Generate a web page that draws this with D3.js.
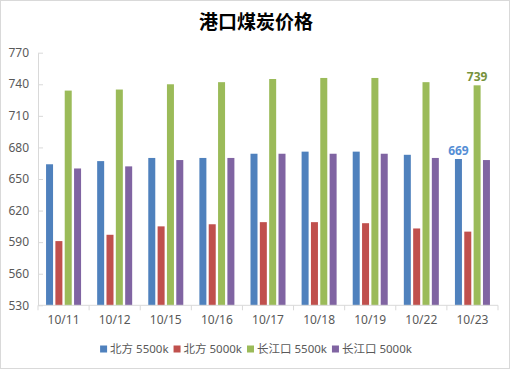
<!DOCTYPE html>
<html>
<head>
<meta charset="utf-8">
<script src="https://cdn.jsdelivr.net/npm/d3@7"></script>
<style>
  body { margin: 0; background: #fff; }
  text { font-family: "Noto Sans", "Noto Sans CJK SC", sans-serif; }
</style>
</head>
<body>
<div id="chart"></div>
<script>
// port coal prices
var dates = ['10/11', '10/12', '10/15', '10/16', '10/17', '10/18', '10/19', '10/22', '10/23'];
var seriesNames = ['北方 5500k', '北方 5000k', '长江口 5500k', '长江口 5000k'];
var north5500 = [664, 667, 670, 670, 674, 676, 676, 673, 669];
var north5000 = [591, 597, 605, 607, 609, 609, 608, 603, 600];
var yangtze5500 = [734, 735, 740, 742, 745, 746, 746, 742, 739];
var yangtze5000 = [660, 662, 668, 670, 674, 674, 674, 670, 668];
var yTicks = [530, 560, 590, 620, 650, 680, 710, 740, 770];
var colors = ['#4F81BD', '#C0504D', '#9BBB59', '#8064A2'];

var allSeries = [north5500, north5000, yangtze5500, yangtze5000];

var w = 512, h = 370;
var left = 38, right = 498, top_y = 52.7, bottom_y = 305.3;

var svg = d3.select('#chart')
  .append('svg')
    .attr('width', w)
    .attr('height', h);

// outer frame
svg.append('rect')
  .attr('x', 0.5).attr('y', 0.5)
  .attr('width', 509).attr('height', 368)
  .attr('fill', '#fff')
  .attr('stroke', '#d9d9d9');

svg.append('text')
  .attr('x', 256).attr('y', 29)
  .attr('text-anchor', 'middle')
  .attr('font-size', 19)
  .attr('font-weight', 'bold')
  .attr('fill', '#000')
  .style('font-family', '"Noto Sans CJK SC", sans-serif')
  .text('港口煤炭价格');

var x = d3.scaleBand()
  .domain(dates)
  .range([left, right])
  .paddingInner(0.315)
  .paddingOuter(0.1575);

var x1 = d3.scaleBand()
  .domain(d3.range(4))
  .range([0, x.bandwidth()])
  .paddingInner(0.25);

var y = d3.scaleLinear()
  .domain([530, 770])
  .range([bottom_y, top_y]);

// bars
var groups = svg.selectAll('g.grp')
  .data(dates)
  .enter().append('g')
    .attr('class', 'grp')
    .attr('transform', function(d) { return 'translate(' + x(d) + ',0)'; });

groups.selectAll('rect')
  .data(function(d, i) { return allSeries.map(function(s, k) { return {k: k, v: s[i]}; }); })
  .enter().append('rect')
    .attr('x', function(d) { return x1(d.k); })
    .attr('y', function(d) { return y(d.v); })
    .attr('width', x1.bandwidth())
    .attr('height', function(d) { return bottom_y - y(d.v); })
    .attr('fill', function(d) { return colors[d.k]; });

// y axis: line with ticks pointing inward
var yAxis = svg.append('g')
  .attr('transform', 'translate(' + left + ',0)')
  .call(d3.axisRight(y).tickValues(yTicks).tickSize(5).tickSizeOuter(0).tickFormat(''));
yAxis.select('.domain').attr('stroke', '#d9d9d9');
yAxis.selectAll('.tick line').attr('stroke', '#d9d9d9');

svg.selectAll('text.ylab')
  .data(yTicks)
  .enter().append('text')
    .attr('class', 'ylab')
    .attr('x', 29)
    .attr('y', function(d) { return y(d); })
    .attr('dy', '0.35em')
    .attr('text-anchor', 'end')
    .attr('font-size', 12)
    .attr('fill', '#595959')
    .text(function(d) { return d; });

// x axis with ticks between categories
var xAxis = svg.append('g')
  .attr('transform', 'translate(0,' + bottom_y + ')');
xAxis.append('line')
  .attr('x1', left).attr('x2', right)
  .attr('stroke', '#d9d9d9');
var step = x.step();
xAxis.selectAll('line.tk')
  .data(d3.range(dates.length + 1))
  .enter().append('line')
    .attr('class', 'tk')
    .attr('x1', function(i) { return left + i * step; })
    .attr('x2', function(i) { return left + i * step; })
    .attr('y1', 0).attr('y2', 5)
    .attr('stroke', '#d9d9d9');
xAxis.selectAll('text')
  .data(dates)
  .enter().append('text')
    .attr('x', function(d) { return x(d) + x.bandwidth() / 2; })
    .attr('y', 19)
    .attr('text-anchor', 'middle')
    .attr('font-size', 12)
    .attr('fill', '#595959')
    .text(function(d) { return d; });

// value labels on the last date
var last = dates.length - 1;
var labels = [{k: 0, color: '#558ED5'}, {k: 2, color: '#76923C'}];
svg.selectAll('text.vlab')
  .data(labels)
  .enter().append('text')
    .attr('class', 'vlab')
    .attr('x', function(d) { return x(dates[last]) + x1(d.k) + x1.bandwidth() / 2; })
    .attr('y', function(d) { return y(allSeries[d.k][last]) - 4; })
    .attr('text-anchor', 'middle')
    .attr('font-size', 12)
    .attr('font-weight', 'bold')
    .attr('fill', function(d) { return d.color; })
    .text(function(d) { return allSeries[d.k][last]; });

// legend, laid out from measured text widths
var legend = svg.append('g');
var items = legend.selectAll('g')
  .data(seriesNames)
  .enter().append('g');
items.append('rect')
  .attr('width', 7).attr('height', 7)
  .attr('y', -3.5)
  .attr('fill', function(d, i) { return colors[i]; });
items.append('text')
  .attr('x', 10)
  .attr('dy', '0.35em')
  .attr('font-size', 11.5)
  .attr('fill', '#595959')
  .text(function(d) { return d; });

var pos = 0;
items.each(function() {
  var tw = d3.select(this).select('text').node().getComputedTextLength();
  d3.select(this).attr('transform', 'translate(' + pos + ',0)');
  pos += 10 + tw + 5;
});
pos -= 5;
legend.attr('transform', 'translate(' + (256 - pos / 2) + ',349)');
</script>
</body>
</html>
